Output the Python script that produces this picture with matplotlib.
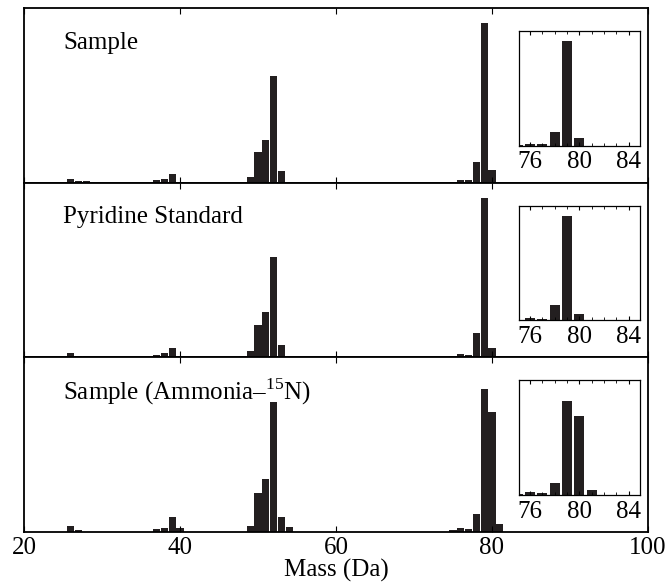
import matplotlib
matplotlib.use("Agg")
import matplotlib.pyplot as plt
from matplotlib.ticker import MultipleLocator

plt.rcParams["font.family"] = "Liberation Serif"
plt.rcParams["mathtext.fontset"] = "custom"
plt.rcParams["mathtext.rm"] = "Liberation Serif"

# relative intensity (% of base peak) per panel
labels = ["Sample", "Pyridine Standard", "Sample (Ammonia\u2013$^{15}$N)"]

mass_1 = [26, 27, 28, 37, 38, 39, 40, 49, 50, 51, 52, 53, 75, 76, 77, 78, 79, 80]
int_1 = [2.2, 0.9, 0.9, 1.6, 2.5, 5.4, 0.6, 3.4, 19.2, 26.8, 66.6, 7.4,
         0.6, 1.9, 1.5, 13.0, 100, 7.8]

mass_2 = [26, 27, 28, 37, 38, 39, 40, 48, 49, 50, 51, 52, 53, 75, 76, 77, 78, 79, 80]
int_2 = [2.3, 1.0, 1.0, 1.5, 2.3, 5.7, 0.6, 0.6, 3.6, 20.3, 28.3, 62.8, 7.4,
         0.6, 1.9, 1.6, 15.2, 100, 6.0]

mass_3 = [26, 27, 37, 38, 39, 40, 49, 50, 51, 52, 53, 54, 75, 76, 77, 78, 79, 80, 81]
int_3 = [3.8, 1.0, 1.9, 2.8, 10.2, 2.8, 4.2, 26.7, 37.1, 90.3, 10.4, 3.5,
         1.0, 2.8, 1.7, 12.7, 100, 84.0, 5.6]

masses = [mass_1, mass_2, mass_3]
intensities = [int_1, int_2, int_3]
y_tops = [109.5, 109.5, 122]

bar_color = "#231f20"
fs = 18

fig = plt.figure(figsize=(6.68, 5.87), dpi=100)
left, right = 24 / 668, 648 / 668
bottom, top = 1 - 531.7 / 587, 1 - 8 / 587
h = (top - bottom) / 3

for i in range(3):
    ax = fig.add_axes([left, top - (i + 1) * h, right - left, h])
    ax.bar(masses[i], intensities[i], width=0.92, color=bar_color,
           edgecolor="none")
    ax.set_xlim(20, 100)
    ax.set_ylim(0, y_tops[i])
    ax.set_yticks([])
    ax.xaxis.set_major_locator(MultipleLocator(20))
    ax.tick_params(axis="x", direction="in", top=True, length=4,
                   labelsize=fs, pad=4)
    for sp in ax.spines.values():
        sp.set_linewidth(1.3)
    if i < 2:
        ax.tick_params(labelbottom=False)
    else:
        ax.set_xlabel("Mass (Da)", fontsize=fs, labelpad=0)
    ax.text(0.0625, 0.80, labels[i], transform=ax.transAxes, fontsize=fs,
            va="center", ha="left")

    ins = ax.inset_axes([0.793, 0.21, 0.194, 0.658])
    ins.bar(masses[i], intensities[i], width=0.82, color=bar_color,
            edgecolor="none")
    ins.set_xlim(75.1, 84.9)
    ins.set_ylim(0, y_tops[i])
    ins.set_yticks([])
    ins.set_xticks([76, 80, 84])
    ins.xaxis.set_minor_locator(MultipleLocator(1))
    ins.tick_params(axis="x", which="both", direction="in", top=True,
                    labelsize=fs, pad=4)
    ins.tick_params(axis="x", which="major", length=3)
    ins.tick_params(axis="x", which="minor", length=2)
    for sp in ins.spines.values():
        sp.set_linewidth(0.9)

fig.savefig("out.png", dpi=100)
